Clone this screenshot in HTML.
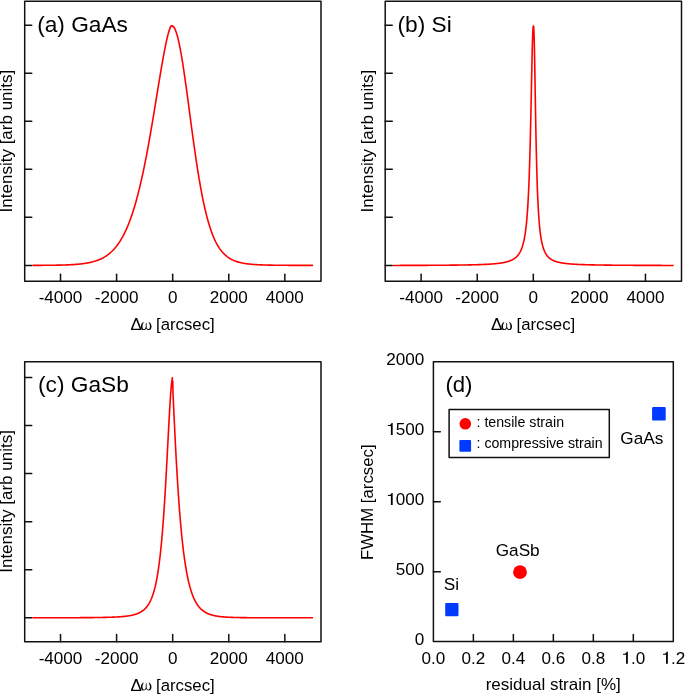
<!DOCTYPE html>
<html><head><meta charset="utf-8"><style>
html,body{margin:0;padding:0;background:#fff;}
svg{display:block;will-change:transform;}
text{font-family:"Liberation Sans",sans-serif;fill:#000;}
.ax{fill:none;stroke:#111;stroke-width:1.5;stroke-linejoin:round;stroke-linecap:round;}
.c{fill:none;stroke:#ff0000;stroke-width:1.6;stroke-linejoin:round;stroke-linecap:round;}
</style></head><body>
<svg width="685" height="694" viewBox="0 0 685 694">
<rect width="685" height="694" fill="#fff"/>
<rect x="24.7" y="1.25" width="296.30" height="280.00" class="ax"/>
<line x1="60.52" y1="281.25" x2="60.52" y2="274.20" class="ax"/>
<text x="60.52" y="302.90" font-size="17.1" text-anchor="middle" >-4000</text>
<line x1="116.60" y1="281.25" x2="116.60" y2="274.20" class="ax"/>
<text x="116.60" y="302.90" font-size="17.1" text-anchor="middle" >-2000</text>
<line x1="172.68" y1="281.25" x2="172.68" y2="274.20" class="ax"/>
<text x="172.68" y="302.90" font-size="17.1" text-anchor="middle" >0</text>
<line x1="228.76" y1="281.25" x2="228.76" y2="274.20" class="ax"/>
<text x="228.76" y="302.90" font-size="17.1" text-anchor="middle" >2000</text>
<line x1="284.84" y1="281.25" x2="284.84" y2="274.20" class="ax"/>
<text x="284.84" y="302.90" font-size="17.1" text-anchor="middle" >4000</text>
<line x1="24.7" y1="25.20" x2="31.75" y2="25.20" class="ax"/>
<line x1="24.7" y1="73.24" x2="31.75" y2="73.24" class="ax"/>
<line x1="24.7" y1="121.28" x2="31.75" y2="121.28" class="ax"/>
<line x1="24.7" y1="169.32" x2="31.75" y2="169.32" class="ax"/>
<line x1="24.7" y1="217.36" x2="31.75" y2="217.36" class="ax"/>
<line x1="24.7" y1="265.40" x2="31.75" y2="265.40" class="ax"/>
<text x="37.15" y="31.60" font-size="22.7" text-anchor="start" >(a) GaAs</text>
<text x="130.40" y="330.30" font-size="17">&#916;</text>
<path d="M2.4,-7.9 C0.7,-6.7 0,-5.0 0,-3.5 C0,-1.3 1.1,0.15 2.6,0.15 C3.8,0.15 4.7,-0.5 5.3,-1.5 C5.9,-0.5 6.8,0.15 8.0,0.15 C9.5,0.15 10.6,-1.3 10.6,-3.5 C10.6,-5.0 9.9,-6.7 8.2,-7.9 L7.7,-7.4 C8.6,-6.4 9.0,-5.0 9.0,-3.5 C9.0,-1.7 8.5,-0.7 7.7,-0.7 C6.7,-0.7 5.8,-1.8 5.75,-3.2 L5.7,-6.6 C5.65,-7.1 5.0,-7.1 4.95,-6.6 L4.85,-3.2 C4.8,-1.8 3.9,-0.7 2.9,-0.7 C2.1,-0.7 1.6,-1.7 1.6,-3.5 C1.6,-5.0 2.0,-6.4 2.9,-7.4 Z" transform="translate(140.90,329.95)" fill="#000"/>
<text x="156.00" y="330.20" font-size="16.8">[arcsec]</text>
<text transform="translate(12.40,212.40) rotate(-90)" font-size="17">Intensity [arb units]</text>
<polyline points="32.90,265.36 33.72,265.36 34.54,265.36 35.36,265.35 36.19,265.35 37.01,265.35 37.83,265.35 38.65,265.34 39.47,265.34 40.29,265.33 41.11,265.33 41.93,265.33 42.75,265.32 43.58,265.32 44.40,265.31 45.22,265.30 46.04,265.30 46.86,265.29 47.68,265.28 48.50,265.28 49.32,265.27 50.15,265.26 50.97,265.25 51.79,265.24 52.61,265.23 53.43,265.22 54.25,265.21 55.07,265.19 55.89,265.18 56.71,265.17 57.54,265.15 58.36,265.13 59.18,265.12 60.00,265.10 60.82,265.08 61.64,265.06 62.46,265.04 63.28,265.01 64.11,264.99 64.93,264.96 65.75,264.93 66.57,264.90 67.39,264.87 68.21,264.83 69.03,264.80 69.85,264.76 70.67,264.72 71.50,264.67 72.32,264.63 73.14,264.58 73.96,264.52 74.78,264.47 75.60,264.41 76.42,264.34 77.24,264.27 78.07,264.20 78.89,264.12 79.71,264.04 80.53,263.96 81.35,263.86 82.17,263.77 82.99,263.66 83.81,263.55 84.63,263.43 85.46,263.31 86.28,263.18 87.10,263.04 87.92,262.89 88.74,262.73 89.56,262.56 90.38,262.38 91.20,262.19 92.02,261.99 92.85,261.78 93.67,261.55 94.49,261.32 95.31,261.06 96.13,260.80 96.95,260.51 97.77,260.21 98.59,259.89 99.42,259.56 100.24,259.20 101.06,258.82 101.88,258.43 102.70,258.01 103.52,257.56 104.34,257.09 105.16,256.59 105.98,256.07 106.81,255.52 107.63,254.93 108.45,254.32 109.27,253.67 110.09,252.98 110.91,252.26 111.73,251.50 112.55,250.70 113.38,249.85 114.20,248.97 115.02,248.03 115.84,247.05 116.66,246.02 117.48,244.93 118.30,243.80 119.12,242.60 119.94,241.35 120.77,240.03 121.59,238.65 122.41,237.20 123.23,235.69 124.05,234.11 124.87,232.45 125.69,230.72 126.51,228.90 127.34,227.01 128.16,225.04 128.98,222.98 129.80,220.83 130.62,218.59 130.69,218.39 130.76,218.20 130.83,218.00 130.90,217.80 130.97,217.61 131.04,217.41 131.11,217.21 131.18,217.01 131.25,216.81 131.32,216.60 131.39,216.40 131.46,216.20 131.53,216.00 131.60,215.79 131.67,215.59 131.74,215.38 131.81,215.17 131.88,214.97 131.95,214.76 132.02,214.55 132.09,214.34 132.16,214.13 132.23,213.92 132.30,213.71 132.37,213.50 132.44,213.28 132.51,213.07 132.58,212.86 132.65,212.64 132.72,212.43 132.79,212.21 132.87,211.99 132.94,211.77 133.01,211.56 133.08,211.34 133.15,211.12 133.22,210.90 133.29,210.67 133.36,210.45 133.43,210.23 133.50,210.01 133.57,209.78 133.64,209.56 133.71,209.33 133.78,209.11 133.85,208.88 133.92,208.65 133.99,208.42 134.06,208.19 134.13,207.96 134.20,207.73 134.27,207.50 134.34,207.27 134.41,207.03 134.48,206.80 134.55,206.57 134.62,206.33 134.69,206.09 134.76,205.86 134.83,205.62 134.90,205.38 134.97,205.14 135.04,204.90 135.11,204.66 135.18,204.42 135.25,204.18 135.32,203.94 135.39,203.69 135.46,203.45 135.53,203.20 135.60,202.96 135.67,202.71 135.74,202.46 135.81,202.22 135.88,201.97 135.95,201.72 136.02,201.47 136.09,201.22 136.16,200.96 136.23,200.71 136.30,200.46 136.37,200.20 136.44,199.95 136.51,199.69 136.58,199.44 136.65,199.18 136.72,198.92 136.79,198.66 136.86,198.40 136.93,198.14 137.00,197.88 137.07,197.62 137.14,197.36 137.21,197.09 137.29,196.83 137.36,196.56 137.43,196.30 137.50,196.03 137.57,195.76 137.64,195.50 137.71,195.23 137.78,194.96 137.85,194.69 137.92,194.42 137.99,194.14 138.06,193.87 138.13,193.60 138.20,193.32 138.27,193.05 138.34,192.77 138.41,192.50 138.48,192.22 138.55,191.94 138.62,191.66 138.69,191.38 138.76,191.10 138.83,190.82 138.90,190.54 138.97,190.25 139.04,189.97 139.11,189.68 139.18,189.40 139.25,189.11 139.32,188.83 139.39,188.54 139.46,188.25 139.53,187.96 139.60,187.67 139.67,187.38 139.74,187.09 139.81,186.80 139.88,186.50 139.95,186.21 140.02,185.91 140.09,185.62 140.16,185.32 140.23,185.02 140.30,184.73 140.37,184.43 140.44,184.13 140.51,183.83 140.58,183.52 140.65,183.22 140.72,182.92 140.79,182.62 140.86,182.31 140.93,182.01 141.00,181.70 141.07,181.39 141.14,181.09 141.21,180.78 141.28,180.47 141.35,180.16 141.42,179.85 141.49,179.54 141.56,179.22 141.63,178.91 141.71,178.60 141.78,178.28 141.85,177.97 141.92,177.65 141.99,177.33 142.06,177.02 142.13,176.70 142.20,176.38 142.27,176.06 142.34,175.74 142.41,175.42 142.48,175.09 142.55,174.77 142.62,174.45 142.69,174.12 142.76,173.79 142.83,173.47 142.90,173.14 142.97,172.81 143.04,172.48 143.11,172.15 143.18,171.82 143.25,171.49 143.32,171.16 143.39,170.83 143.46,170.49 143.53,170.16 143.60,169.83 143.67,169.49 143.74,169.15 143.81,168.82 143.88,168.48 143.95,168.14 144.02,167.80 144.09,167.46 144.16,167.12 144.23,166.78 144.30,166.43 144.37,166.09 144.44,165.74 144.51,165.40 144.58,165.05 144.65,164.71 144.72,164.36 144.79,164.01 144.86,163.66 144.93,163.31 145.00,162.96 145.07,162.61 145.14,162.26 145.21,161.91 145.28,161.55 145.35,161.20 145.42,160.85 145.49,160.49 145.56,160.13 145.63,159.78 145.70,159.42 145.77,159.06 145.84,158.70 145.91,158.34 145.98,157.98 146.05,157.62 146.13,157.26 146.20,156.89 146.27,156.53 146.34,156.17 146.41,155.80 146.48,155.44 146.55,155.07 146.62,154.70 146.69,154.33 146.76,153.97 146.83,153.60 146.90,153.23 146.97,152.86 147.04,152.49 147.11,152.11 147.18,151.74 147.25,151.37 147.32,150.99 147.39,150.62 147.46,150.24 147.53,149.87 147.60,149.49 147.67,149.11 147.74,148.73 147.81,148.35 147.88,147.98 147.95,147.59 148.02,147.21 148.09,146.83 148.16,146.45 148.23,146.07 148.30,145.68 148.37,145.30 148.44,144.91 148.51,144.53 148.58,144.14 148.65,143.76 148.72,143.37 148.79,142.98 148.86,142.59 148.93,142.20 149.00,141.81 149.07,141.42 149.14,141.03 149.21,140.64 149.28,140.25 149.35,139.85 149.42,139.46 149.49,139.07 149.56,138.67 149.63,138.28 149.70,137.88 149.77,137.48 149.84,137.09 149.91,136.69 149.98,136.29 150.05,135.89 150.12,135.49 150.19,135.09 150.26,134.69 150.33,134.29 150.40,133.89 150.47,133.49 150.55,133.08 150.62,132.68 150.69,132.28 150.76,131.87 150.83,131.47 150.90,131.06 150.97,130.66 151.04,130.25 151.11,129.84 151.18,129.44 151.25,129.03 151.32,128.62 151.39,128.21 151.46,127.80 151.53,127.39 151.60,126.98 151.67,126.57 151.74,126.16 151.81,125.75 151.88,125.33 151.95,124.92 152.02,124.51 152.09,124.09 152.16,123.68 152.23,123.26 152.30,122.85 152.37,122.43 152.44,122.02 152.51,121.60 152.58,121.19 152.65,120.77 152.72,120.35 152.79,119.93 152.86,119.51 152.93,119.10 153.00,118.68 153.07,118.26 153.14,117.84 153.21,117.42 153.28,117.00 153.35,116.58 153.42,116.15 153.49,115.73 153.56,115.31 153.63,114.89 153.70,114.47 153.77,114.04 153.84,113.62 153.91,113.20 153.98,112.77 154.05,112.35 154.12,111.92 154.19,111.50 154.26,111.08 154.33,110.65 154.40,110.22 154.47,109.80 154.54,109.37 154.61,108.95 154.68,108.52 154.75,108.09 154.82,107.67 154.89,107.24 154.96,106.81 155.04,106.38 155.11,105.96 155.18,105.53 155.25,105.10 155.32,104.67 155.39,104.24 155.46,103.82 155.53,103.39 155.60,102.96 155.67,102.53 155.74,102.10 155.81,101.67 155.88,101.24 155.95,100.81 156.02,100.38 156.09,99.95 156.16,99.52 156.23,99.09 156.30,98.66 156.37,98.23 156.44,97.80 156.51,97.37 156.58,96.94 156.65,96.51 156.72,96.08 156.79,95.65 156.86,95.22 156.93,94.79 157.00,94.36 157.07,93.93 157.14,93.50 157.21,93.07 157.28,92.64 157.35,92.21 157.42,91.78 157.49,91.35 157.56,90.92 157.63,90.49 157.70,90.06 157.77,89.63 157.84,89.21 157.91,88.78 157.98,88.35 158.05,87.92 158.12,87.49 158.19,87.06 158.26,86.63 158.33,86.21 158.40,85.78 158.47,85.35 158.54,84.92 158.61,84.49 158.68,84.07 158.75,83.64 158.82,83.21 158.89,82.79 158.96,82.36 159.03,81.94 159.10,81.51 159.17,81.09 159.24,80.66 159.31,80.24 159.38,79.81 159.46,79.39 159.53,78.97 159.60,78.54 159.67,78.12 159.74,77.70 159.81,77.28 159.88,76.85 159.95,76.43 160.02,76.01 160.09,75.59 160.16,75.17 160.23,74.75 160.30,74.33 160.37,73.92 160.44,73.50 160.51,73.08 160.58,72.67 160.65,72.25 160.72,71.83 160.79,71.42 160.86,71.00 160.93,70.59 161.00,70.18 161.07,69.77 161.14,69.35 161.21,68.94 161.28,68.53 161.35,68.12 161.42,67.71 161.49,67.30 161.56,66.90 161.63,66.49 161.70,66.08 161.77,65.68 161.84,65.27 161.91,64.87 161.98,64.47 162.05,64.06 162.12,63.66 162.19,63.26 162.26,62.86 162.33,62.46 162.40,62.06 162.47,61.67 162.54,61.27 162.61,60.87 162.68,60.48 162.75,60.09 162.82,59.69 162.89,59.30 162.96,58.91 163.03,58.52 163.10,58.13 163.17,57.75 163.24,57.36 163.31,56.97 163.38,56.59 163.45,56.21 163.52,55.82 163.59,55.44 163.66,55.06 163.73,54.68 163.80,54.31 163.88,53.93 163.95,53.56 164.02,53.18 164.09,52.81 164.16,52.44 164.23,52.07 164.30,51.70 164.37,51.33 164.44,50.97 164.51,50.60 164.58,50.24 164.65,49.88 164.72,49.52 164.79,49.16 164.86,48.80 164.93,48.44 165.00,48.09 165.07,47.74 165.14,47.39 165.21,47.04 165.28,46.69 165.35,46.34 165.42,46.00 165.49,45.65 165.56,45.31 165.63,44.97 165.70,44.63 165.77,44.30 165.84,43.96 165.91,43.63 165.98,43.30 166.05,42.97 166.12,42.64 166.19,42.31 166.26,41.99 166.33,41.67 166.40,41.35 166.47,41.03 166.54,40.71 166.61,40.40 166.68,40.09 166.75,39.78 166.82,39.47 166.89,39.16 166.96,38.86 167.03,38.56 167.10,38.26 167.17,37.96 167.24,37.67 167.31,37.37 167.38,37.08 167.45,36.80 167.52,36.51 167.59,36.23 167.66,35.95 167.73,35.67 167.80,35.39 167.87,35.12 167.94,34.85 168.01,34.58 168.08,34.32 168.15,34.05 168.22,33.79 168.30,33.53 168.37,33.28 168.44,33.03 168.51,32.78 168.58,32.53 168.65,32.29 168.72,32.05 168.79,31.81 168.86,31.58 168.93,31.35 169.00,31.12 169.07,30.90 169.14,30.68 169.21,30.46 169.28,30.24 169.35,30.03 169.42,29.82 169.49,29.62 169.56,29.42 169.63,29.22 169.70,29.03 169.77,28.84 169.84,28.66 169.91,28.47 169.98,28.30 170.05,28.12 170.12,27.96 170.30,26.70 170.47,27.18 170.54,27.04 170.61,26.90 170.68,26.77 170.75,26.65 170.82,26.53 170.89,26.41 170.96,26.31 171.03,26.21 171.20,25.80 171.38,25.81 171.45,25.76 171.52,25.72 171.59,25.70 171.60,25.70 171.66,25.70 171.73,25.70 171.80,25.71 171.87,25.72 171.94,25.73 172.10,25.90 172.29,25.83 172.36,25.86 172.43,25.89 172.50,25.93 172.57,25.97 172.64,26.01 172.72,26.05 172.79,26.10 172.86,26.15 172.93,26.20 173.10,26.40 173.28,26.52 173.35,26.59 173.42,26.67 173.49,26.75 173.56,26.83 173.63,26.92 173.70,27.00 173.77,27.10 173.84,27.19 173.91,27.29 173.98,27.39 174.05,27.50 174.20,27.20 174.40,28.07 174.47,28.19 174.54,28.32 174.61,28.45 174.68,28.59 174.75,28.72 174.82,28.86 174.89,29.01 174.96,29.15 175.03,29.30 175.10,29.46 175.17,29.61 175.24,29.77 175.31,29.94 175.38,30.10 175.45,30.27 175.52,30.44 175.59,30.62 175.66,30.80 175.73,30.98 175.80,31.17 175.87,31.35 175.94,31.55 176.01,31.74 176.08,31.94 176.15,32.14 176.22,32.34 176.29,32.55 176.36,32.76 176.43,32.97 176.50,33.19 176.57,33.41 176.64,33.63 176.71,33.86 176.78,34.09 176.85,34.32 176.92,34.56 176.99,34.79 177.06,35.04 177.14,35.28 177.21,35.53 177.28,35.78 177.35,36.03 177.42,36.29 177.49,36.55 177.56,36.81 177.63,37.08 177.70,37.34 177.77,37.62 177.84,37.89 177.91,38.17 177.98,38.45 178.05,38.73 178.12,39.02 178.19,39.31 178.26,39.60 178.33,39.89 178.40,40.19 178.47,40.49 178.54,40.79 178.61,41.10 178.68,41.41 178.75,41.72 178.82,42.03 178.89,42.35 178.96,42.67 179.03,42.99 179.10,43.32 179.17,43.64 179.24,43.97 179.31,44.31 179.38,44.64 179.45,44.98 179.52,45.32 179.59,45.67 179.66,46.01 179.73,46.36 179.80,46.71 179.87,47.07 179.94,47.42 180.01,47.78 180.08,48.14 180.15,48.51 180.22,48.88 180.29,49.24 180.36,49.62 180.43,49.99 180.50,50.37 180.57,50.74 180.64,51.13 180.71,51.51 180.78,51.89 180.85,52.28 180.92,52.67 180.99,53.07 181.06,53.46 181.13,53.86 181.20,54.26 181.27,54.66 181.34,55.06 181.41,55.47 181.48,55.88 181.56,56.29 181.63,56.70 181.70,57.11 181.77,57.53 181.84,57.95 181.91,58.37 181.98,58.79 182.05,59.22 182.12,59.64 182.19,60.07 182.26,60.50 182.33,60.94 182.40,61.37 182.47,61.81 182.54,62.25 182.61,62.69 182.68,63.13 182.75,63.57 182.82,64.02 182.89,64.47 182.96,64.92 183.03,65.37 183.10,65.82 183.17,66.27 183.24,66.73 183.31,67.19 183.38,67.65 183.45,68.11 183.52,68.57 183.59,69.04 183.66,69.50 183.73,69.97 183.80,70.44 183.87,70.91 183.94,71.38 184.01,71.85 184.08,72.33 184.15,72.81 184.22,73.28 184.29,73.76 184.36,74.24 184.43,74.73 184.50,75.21 184.57,75.69 184.64,76.18 184.71,76.67 184.78,77.16 184.85,77.65 184.92,78.14 184.99,78.63 185.06,79.12 185.13,79.62 185.20,80.11 185.27,80.61 185.34,81.11 185.41,81.61 185.48,82.11 185.55,82.61 185.62,83.11 185.69,83.61 185.76,84.12 185.83,84.62 185.90,85.13 185.98,85.64 186.05,86.14 186.12,86.65 186.19,87.16 186.26,87.67 186.33,88.18 186.40,88.70 186.47,89.21 186.54,89.72 186.61,90.24 186.68,90.75 186.75,91.27 186.82,91.79 186.89,92.30 186.96,92.82 187.03,93.34 187.10,93.86 187.17,94.38 187.24,94.90 187.31,95.42 187.38,95.94 187.45,96.46 187.52,96.99 187.59,97.51 187.66,98.03 187.73,98.56 187.80,99.08 187.87,99.61 187.94,100.13 188.01,100.66 188.08,101.18 188.15,101.71 188.22,102.24 188.29,102.76 188.36,103.29 188.43,103.82 188.50,104.35 188.57,104.87 188.64,105.40 188.71,105.93 188.78,106.46 188.85,106.99 188.92,107.52 188.99,108.05 189.06,108.57 189.13,109.10 189.20,109.63 189.27,110.16 189.34,110.69 189.41,111.22 189.48,111.75 189.55,112.28 189.62,112.81 189.69,113.34 189.76,113.87 189.83,114.40 189.90,114.93 189.97,115.46 190.04,115.99 190.11,116.51 190.18,117.04 190.25,117.57 190.32,118.10 190.40,118.63 190.47,119.16 190.54,119.68 190.61,120.21 190.68,120.74 190.75,121.27 190.82,121.79 190.89,122.32 190.96,122.85 191.03,123.37 191.10,123.90 191.17,124.42 191.24,124.95 191.31,125.47 191.38,126.00 191.45,126.52 191.52,127.04 191.59,127.56 191.66,128.09 191.73,128.61 191.80,129.13 191.87,129.65 191.94,130.17 192.01,130.69 192.08,131.21 192.15,131.73 192.22,132.25 192.29,132.76 192.36,133.28 192.43,133.80 192.50,134.31 192.57,134.83 192.64,135.34 192.71,135.86 192.78,136.37 192.85,136.88 192.92,137.39 192.99,137.90 193.06,138.42 193.13,138.92 193.20,139.43 193.27,139.94 193.34,140.45 193.41,140.96 193.48,141.46 193.55,141.97 193.62,142.47 193.69,142.98 193.76,143.48 193.83,143.98 193.90,144.48 193.97,144.98 194.04,145.48 194.11,145.98 194.18,146.48 194.25,146.97 194.32,147.47 194.39,147.96 194.46,148.46 194.53,148.95 194.60,149.44 194.67,149.93 194.74,150.42 194.81,150.91 194.89,151.40 194.96,151.89 195.03,152.38 195.10,152.86 195.17,153.35 195.24,153.83 195.31,154.31 195.38,154.79 195.45,155.27 195.52,155.75 195.59,156.23 195.66,156.71 195.73,157.18 195.80,157.66 195.87,158.13 195.94,158.60 196.01,159.08 196.08,159.55 196.15,160.02 196.22,160.48 196.29,160.95 196.36,161.42 196.43,161.88 196.50,162.35 196.57,162.81 196.64,163.27 196.71,163.73 196.78,164.19 196.85,164.65 196.92,165.11 196.99,165.56 197.06,166.02 197.13,166.47 197.20,166.92 197.27,167.37 197.34,167.82 197.41,168.27 197.48,168.72 197.55,169.16 197.62,169.61 197.69,170.05 197.76,170.49 197.83,170.93 197.90,171.37 197.97,171.81 198.04,172.25 198.11,172.69 198.18,173.12 198.25,173.55 198.32,173.99 198.39,174.42 198.46,174.85 198.53,175.28 198.60,175.70 198.67,176.13 198.74,176.55 198.81,176.98 198.88,177.40 198.95,177.82 199.02,178.24 199.09,178.65 199.16,179.07 199.23,179.49 199.31,179.90 199.38,180.31 199.45,180.72 199.52,181.13 199.59,181.54 199.66,181.95 199.73,182.36 199.80,182.76 199.87,183.16 199.94,183.57 200.01,183.97 200.08,184.37 200.15,184.76 200.22,185.16 200.29,185.56 200.36,185.95 200.43,186.34 200.50,186.73 200.57,187.12 200.64,187.51 200.71,187.90 200.78,188.28 200.85,188.67 200.92,189.05 200.99,189.43 201.06,189.81 201.13,190.19 201.20,190.57 201.27,190.95 201.34,191.32 201.41,191.69 201.48,192.07 201.55,192.44 201.62,192.81 201.69,193.17 201.76,193.54 201.83,193.91 201.90,194.27 201.97,194.63 202.04,194.99 202.11,195.35 202.18,195.71 202.25,196.07 202.32,196.42 202.39,196.78 202.46,197.13 202.53,197.48 202.60,197.83 202.67,198.18 202.74,198.53 202.81,198.88 202.88,199.22 202.95,199.56 203.02,199.91 203.09,200.25 203.16,200.59 203.23,200.92 203.30,201.26 203.37,201.60 203.44,201.93 203.51,202.26 203.58,202.59 203.65,202.92 203.73,203.25 203.80,203.58 203.87,203.90 203.94,204.23 204.01,204.55 204.08,204.87 204.15,205.19 204.22,205.51 204.29,205.83 204.36,206.15 204.43,206.46 204.50,206.77 204.57,207.09 204.64,207.40 204.71,207.71 204.78,208.02 204.85,208.32 204.92,208.63 204.99,208.93 205.06,209.24 205.13,209.54 205.20,209.84 205.27,210.14 205.34,210.43 205.41,210.73 205.48,211.03 205.55,211.32 205.62,211.61 205.69,211.90 205.76,212.19 205.83,212.48 205.90,212.77 205.97,213.06 206.04,213.34 206.11,213.63 206.18,213.91 206.25,214.19 206.32,214.47 206.39,214.75 206.46,215.02 206.53,215.30 206.60,215.57 206.67,215.85 206.74,216.12 206.81,216.39 206.88,216.66 206.95,216.93 207.02,217.20 207.09,217.46 207.16,217.73 207.23,217.99 207.30,218.25 207.37,218.51 207.44,218.77 207.51,219.03 207.58,219.29 207.65,219.55 207.72,219.80 207.79,220.05 207.86,220.31 207.93,220.56 208.00,220.81 208.07,221.06 208.15,221.31 208.22,221.55 208.29,221.80 208.36,222.04 208.43,222.28 208.50,222.53 208.57,222.77 208.64,223.01 208.71,223.24 208.78,223.48 208.85,223.72 208.92,223.95 208.99,224.19 209.06,224.42 209.13,224.65 209.20,224.88 209.27,225.11 209.34,225.34 209.41,225.56 209.48,225.79 209.55,226.01 209.62,226.24 209.69,226.46 209.76,226.68 209.83,226.90 209.90,227.12 209.97,227.34 210.04,227.56 210.11,227.77 210.18,227.99 210.25,228.20 210.32,228.41 210.39,228.62 210.46,228.83 210.53,229.04 210.60,229.25 210.67,229.46 210.74,229.67 210.81,229.87 210.88,230.07 210.95,230.28 211.02,230.48 211.09,230.68 211.16,230.88 211.23,231.08 211.30,231.28 211.37,231.47 211.44,231.67 211.51,231.86 211.58,232.06 211.65,232.25 211.72,232.44 211.79,232.63 211.86,232.82 211.93,233.01 212.00,233.20 212.07,233.39 212.14,233.57 212.21,233.76 212.28,233.94 212.35,234.12 212.42,234.31 212.49,234.49 212.57,234.67 212.64,234.84 212.71,235.02 212.78,235.20 212.85,235.38 212.92,235.55 212.99,235.73 213.06,235.90 213.13,236.07 213.20,236.24 213.27,236.41 213.34,236.58 213.41,236.75 213.48,236.92 213.55,237.09 213.62,237.25 213.69,237.42 213.76,237.58 213.83,237.75 213.90,237.91 213.97,238.07 214.04,238.23 214.11,238.39 214.18,238.55 214.25,238.71 214.32,238.86 214.39,239.02 214.46,239.18 214.53,239.33 214.60,239.48 214.67,239.64 214.74,239.79 215.56,241.51 216.38,243.12 217.20,244.63 218.02,246.04 218.85,247.36 219.67,248.59 220.49,249.74 221.31,250.81 222.13,251.81 222.95,252.75 223.77,253.62 224.59,254.43 225.42,255.19 226.24,255.89 227.06,256.55 227.88,257.16 228.70,257.72 229.52,258.25 230.34,258.74 231.16,259.20 231.98,259.63 232.81,260.02 233.63,260.39 234.45,260.73 235.27,261.05 236.09,261.35 236.91,261.62 237.73,261.88 238.55,262.12 239.38,262.34 240.20,262.54 241.02,262.73 241.84,262.91 242.66,263.08 243.48,263.23 244.30,263.38 245.12,263.51 245.94,263.63 246.77,263.75 247.59,263.86 248.41,263.96 249.23,264.05 250.05,264.14 250.87,264.22 251.69,264.30 252.51,264.37 253.34,264.43 254.16,264.49 254.98,264.55 255.80,264.60 256.62,264.65 257.44,264.70 258.26,264.74 259.08,264.78 259.90,264.82 260.73,264.86 261.55,264.89 262.37,264.92 263.19,264.95 264.01,264.98 264.83,265.00 265.65,265.03 266.47,265.05 267.29,265.07 268.12,265.09 268.94,265.11 269.76,265.12 270.58,265.14 271.40,265.16 272.22,265.17 273.04,265.18 273.86,265.20 274.69,265.21 275.51,265.22 276.33,265.23 277.15,265.24 277.97,265.25 278.79,265.26 279.61,265.26 280.43,265.27 281.25,265.28 282.08,265.28 282.90,265.29 283.72,265.30 284.54,265.30 285.36,265.31 286.18,265.31 287.00,265.32 287.82,265.32 288.65,265.33 289.47,265.33 290.29,265.33 291.11,265.34 291.93,265.34 292.75,265.34 293.57,265.35 294.39,265.35 295.21,265.35 296.04,265.35 296.86,265.36 297.68,265.36 298.50,265.36 299.32,265.36 300.14,265.36 300.96,265.37 301.78,265.37 302.61,265.37 303.43,265.37 304.25,265.37 305.07,265.37 305.89,265.37 306.71,265.38 307.53,265.38 308.35,265.38 309.17,265.38 310.00,265.38 310.82,265.38 311.64,265.38 312.46,265.38" class="c"/>
<rect x="385.2" y="1.25" width="296.30" height="280.00" class="ax"/>
<line x1="421.14" y1="281.25" x2="421.14" y2="274.20" class="ax"/>
<text x="421.14" y="302.90" font-size="17.1" text-anchor="middle" >-4000</text>
<line x1="477.22" y1="281.25" x2="477.22" y2="274.20" class="ax"/>
<text x="477.22" y="302.90" font-size="17.1" text-anchor="middle" >-2000</text>
<line x1="533.30" y1="281.25" x2="533.30" y2="274.20" class="ax"/>
<text x="533.30" y="302.90" font-size="17.1" text-anchor="middle" >0</text>
<line x1="589.38" y1="281.25" x2="589.38" y2="274.20" class="ax"/>
<text x="589.38" y="302.90" font-size="17.1" text-anchor="middle" >2000</text>
<line x1="645.46" y1="281.25" x2="645.46" y2="274.20" class="ax"/>
<text x="645.46" y="302.90" font-size="17.1" text-anchor="middle" >4000</text>
<line x1="385.2" y1="25.20" x2="392.25" y2="25.20" class="ax"/>
<line x1="385.2" y1="73.24" x2="392.25" y2="73.24" class="ax"/>
<line x1="385.2" y1="121.28" x2="392.25" y2="121.28" class="ax"/>
<line x1="385.2" y1="169.32" x2="392.25" y2="169.32" class="ax"/>
<line x1="385.2" y1="217.36" x2="392.25" y2="217.36" class="ax"/>
<line x1="385.2" y1="265.40" x2="392.25" y2="265.40" class="ax"/>
<text x="397.50" y="31.60" font-size="22.7" text-anchor="start" >(b) Si</text>
<text x="490.90" y="330.30" font-size="17">&#916;</text>
<path d="M2.4,-7.9 C0.7,-6.7 0,-5.0 0,-3.5 C0,-1.3 1.1,0.15 2.6,0.15 C3.8,0.15 4.7,-0.5 5.3,-1.5 C5.9,-0.5 6.8,0.15 8.0,0.15 C9.5,0.15 10.6,-1.3 10.6,-3.5 C10.6,-5.0 9.9,-6.7 8.2,-7.9 L7.7,-7.4 C8.6,-6.4 9.0,-5.0 9.0,-3.5 C9.0,-1.7 8.5,-0.7 7.7,-0.7 C6.7,-0.7 5.8,-1.8 5.75,-3.2 L5.7,-6.6 C5.65,-7.1 5.0,-7.1 4.95,-6.6 L4.85,-3.2 C4.8,-1.8 3.9,-0.7 2.9,-0.7 C2.1,-0.7 1.6,-1.7 1.6,-3.5 C1.6,-5.0 2.0,-6.4 2.9,-7.4 Z" transform="translate(501.40,329.95)" fill="#000"/>
<text x="516.50" y="330.20" font-size="16.8">[arcsec]</text>
<text transform="translate(372.90,212.40) rotate(-90)" font-size="17">Intensity [arb units]</text>
<polyline points="393.52,265.44 394.34,265.44 395.16,265.44 395.98,265.43 396.81,265.43 397.63,265.43 398.45,265.43 399.27,265.43 400.09,265.42 400.91,265.42 401.73,265.42 402.55,265.42 403.37,265.41 404.20,265.41 405.02,265.41 405.84,265.41 406.66,265.41 407.48,265.40 408.30,265.40 409.12,265.40 409.94,265.40 410.77,265.39 411.59,265.39 412.41,265.39 413.23,265.38 414.05,265.38 414.87,265.38 415.69,265.38 416.51,265.37 417.33,265.37 418.16,265.37 418.98,265.36 419.80,265.36 420.62,265.36 421.44,265.35 422.26,265.35 423.08,265.35 423.90,265.34 424.73,265.34 425.55,265.34 426.37,265.33 427.19,265.33 428.01,265.32 428.83,265.32 429.65,265.32 430.47,265.31 431.29,265.31 432.12,265.30 432.94,265.30 433.76,265.29 434.58,265.29 435.40,265.28 436.22,265.28 437.04,265.27 437.86,265.27 438.69,265.26 439.51,265.26 440.33,265.25 441.15,265.24 441.97,265.24 442.79,265.23 443.61,265.23 444.43,265.22 445.25,265.21 446.08,265.21 446.90,265.20 447.72,265.19 448.54,265.18 449.36,265.18 450.18,265.17 451.00,265.16 451.82,265.15 452.64,265.14 453.47,265.13 454.29,265.12 455.11,265.11 455.93,265.11 456.75,265.09 457.57,265.08 458.39,265.07 459.21,265.06 460.04,265.05 460.86,265.04 461.68,265.03 462.50,265.01 463.32,265.00 464.14,264.99 464.96,264.97 465.78,264.96 466.60,264.94 467.43,264.93 468.25,264.91 469.07,264.90 469.89,264.88 470.71,264.86 471.53,264.84 472.35,264.82 473.17,264.80 474.00,264.78 474.82,264.76 475.64,264.74 476.46,264.71 477.28,264.69 478.10,264.66 478.92,264.63 479.74,264.61 480.56,264.58 481.39,264.55 482.21,264.51 483.03,264.48 483.85,264.44 484.67,264.41 485.49,264.37 486.31,264.33 487.13,264.28 487.96,264.24 488.78,264.19 489.60,264.14 490.42,264.09 491.24,264.03 491.31,264.03 491.38,264.02 491.45,264.02 491.52,264.01 491.59,264.01 491.66,264.00 491.73,264.00 491.80,263.99 491.87,263.99 491.94,263.98 492.01,263.98 492.08,263.97 492.15,263.96 492.22,263.96 492.29,263.95 492.36,263.95 492.43,263.94 492.50,263.94 492.57,263.93 492.64,263.93 492.71,263.92 492.78,263.92 492.85,263.91 492.92,263.91 492.99,263.90 493.06,263.89 493.13,263.89 493.20,263.88 493.27,263.88 493.34,263.87 493.41,263.87 493.49,263.86 493.56,263.85 493.63,263.85 493.70,263.84 493.77,263.84 493.84,263.83 493.91,263.82 493.98,263.82 494.05,263.81 494.12,263.81 494.19,263.80 494.26,263.79 494.33,263.79 494.40,263.78 494.47,263.78 494.54,263.77 494.61,263.76 494.68,263.76 494.75,263.75 494.82,263.74 494.89,263.74 494.96,263.73 495.03,263.72 495.10,263.72 495.17,263.71 495.24,263.71 495.31,263.70 495.38,263.69 495.45,263.69 495.52,263.68 495.59,263.67 495.66,263.67 495.73,263.66 495.80,263.65 495.87,263.64 495.94,263.64 496.01,263.63 496.08,263.62 496.15,263.62 496.22,263.61 496.29,263.60 496.36,263.60 496.43,263.59 496.50,263.58 496.57,263.57 496.64,263.57 496.71,263.56 496.78,263.55 496.85,263.54 496.92,263.54 496.99,263.53 497.06,263.52 497.13,263.51 497.20,263.51 497.27,263.50 497.34,263.49 497.41,263.48 497.48,263.48 497.55,263.47 497.62,263.46 497.69,263.45 497.76,263.44 497.83,263.44 497.91,263.43 497.98,263.42 498.05,263.41 498.12,263.40 498.19,263.39 498.26,263.39 498.33,263.38 498.40,263.37 498.47,263.36 498.54,263.35 498.61,263.34 498.68,263.34 498.75,263.33 498.82,263.32 498.89,263.31 498.96,263.30 499.03,263.29 499.10,263.28 499.17,263.27 499.24,263.26 499.31,263.26 499.38,263.25 499.45,263.24 499.52,263.23 499.59,263.22 499.66,263.21 499.73,263.20 499.80,263.19 499.87,263.18 499.94,263.17 500.01,263.16 500.08,263.15 500.15,263.14 500.22,263.13 500.29,263.12 500.36,263.11 500.43,263.10 500.50,263.09 500.57,263.08 500.64,263.07 500.71,263.06 500.78,263.05 500.85,263.04 500.92,263.03 500.99,263.02 501.06,263.01 501.13,263.00 501.20,262.99 501.27,262.98 501.34,262.97 501.41,262.96 501.48,262.94 501.55,262.93 501.62,262.92 501.69,262.91 501.76,262.90 501.83,262.89 501.90,262.88 501.97,262.87 502.04,262.85 502.11,262.84 502.18,262.83 502.25,262.82 502.33,262.81 502.40,262.79 502.47,262.78 502.54,262.77 502.61,262.76 502.68,262.75 502.75,262.73 502.82,262.72 502.89,262.71 502.96,262.70 503.03,262.68 503.10,262.67 503.17,262.66 503.24,262.65 503.31,262.63 503.38,262.62 503.45,262.61 503.52,262.59 503.59,262.58 503.66,262.57 503.73,262.55 503.80,262.54 503.87,262.52 503.94,262.51 504.01,262.50 504.08,262.48 504.15,262.47 504.22,262.45 504.29,262.44 504.36,262.43 504.43,262.41 504.50,262.40 504.57,262.38 504.64,262.37 504.71,262.35 504.78,262.34 504.85,262.32 504.92,262.31 504.99,262.29 505.06,262.28 505.13,262.26 505.20,262.24 505.27,262.23 505.34,262.21 505.41,262.20 505.48,262.18 505.55,262.16 505.62,262.15 505.69,262.13 505.76,262.12 505.83,262.10 505.90,262.08 505.97,262.06 506.04,262.05 506.11,262.03 506.18,262.01 506.25,262.00 506.32,261.98 506.39,261.96 506.46,261.94 506.53,261.92 506.60,261.91 506.67,261.89 506.75,261.87 506.82,261.85 506.89,261.83 506.96,261.81 507.03,261.79 507.10,261.78 507.17,261.76 507.24,261.74 507.31,261.72 507.38,261.70 507.45,261.68 507.52,261.66 507.59,261.64 507.66,261.62 507.73,261.60 507.80,261.58 507.87,261.55 507.94,261.53 508.01,261.51 508.08,261.49 508.15,261.47 508.22,261.45 508.29,261.43 508.36,261.40 508.43,261.38 508.50,261.36 508.57,261.34 508.64,261.31 508.71,261.29 508.78,261.27 508.85,261.25 508.92,261.22 508.99,261.20 509.06,261.17 509.13,261.15 509.20,261.13 509.27,261.10 509.34,261.08 509.41,261.05 509.48,261.03 509.55,261.00 509.62,260.98 509.69,260.95 509.76,260.92 509.83,260.90 509.90,260.87 509.97,260.84 510.04,260.82 510.11,260.79 510.18,260.76 510.25,260.74 510.32,260.71 510.39,260.68 510.46,260.65 510.53,260.62 510.60,260.59 510.67,260.57 510.74,260.54 510.81,260.51 510.88,260.48 510.95,260.45 511.02,260.42 511.09,260.39 511.17,260.35 511.24,260.32 511.31,260.29 511.38,260.26 511.45,260.23 511.52,260.20 511.59,260.16 511.66,260.13 511.73,260.10 511.80,260.06 511.87,260.03 511.94,260.00 512.01,259.96 512.08,259.93 512.15,259.89 512.22,259.86 512.29,259.82 512.36,259.78 512.43,259.75 512.50,259.71 512.57,259.67 512.64,259.64 512.71,259.60 512.78,259.56 512.85,259.52 512.92,259.48 512.99,259.44 513.06,259.40 513.13,259.36 513.20,259.32 513.27,259.28 513.34,259.24 513.41,259.20 513.48,259.16 513.55,259.11 513.62,259.07 513.69,259.03 513.76,258.98 513.83,258.94 513.90,258.89 513.97,258.85 514.04,258.80 514.11,258.76 514.18,258.71 514.25,258.66 514.32,258.61 514.39,258.57 514.46,258.52 514.53,258.47 514.60,258.42 514.67,258.37 514.74,258.32 514.81,258.27 514.88,258.21 514.95,258.16 515.02,258.11 515.09,258.06 515.16,258.00 515.23,257.95 515.30,257.89 515.37,257.84 515.44,257.78 515.51,257.72 515.58,257.66 515.66,257.61 515.73,257.55 515.80,257.49 515.87,257.43 515.94,257.37 516.01,257.30 516.08,257.24 516.15,257.18 516.22,257.11 516.29,257.05 516.36,256.98 516.43,256.92 516.50,256.85 516.57,256.78 516.64,256.71 516.71,256.64 516.78,256.57 516.85,256.50 516.92,256.43 516.99,256.36 517.06,256.28 517.13,256.21 517.20,256.13 517.27,256.06 517.34,255.98 517.41,255.90 517.48,255.82 517.55,255.74 517.62,255.66 517.69,255.58 517.76,255.50 517.83,255.41 517.90,255.33 517.97,255.24 518.04,255.15 518.11,255.06 518.18,254.97 518.25,254.88 518.32,254.79 518.39,254.70 518.46,254.60 518.53,254.51 518.60,254.41 518.67,254.31 518.74,254.21 518.81,254.11 518.88,254.01 518.95,253.91 519.02,253.80 519.09,253.69 519.16,253.59 519.23,253.48 519.30,253.37 519.37,253.25 519.44,253.14 519.51,253.02 519.58,252.91 519.65,252.79 519.72,252.67 519.79,252.54 519.86,252.42 519.93,252.29 520.00,252.17 520.08,252.04 520.15,251.91 520.22,251.77 520.29,251.64 520.36,251.50 520.43,251.36 520.50,251.22 520.57,251.07 520.64,250.93 520.71,250.78 520.78,250.63 520.85,250.48 520.92,250.32 520.99,250.17 521.06,250.01 521.13,249.84 521.20,249.68 521.27,249.51 521.34,249.34 521.41,249.17 521.48,248.99 521.55,248.82 521.62,248.64 521.69,248.45 521.76,248.26 521.83,248.07 521.90,247.88 521.97,247.68 522.04,247.49 522.11,247.28 522.18,247.08 522.25,246.87 522.32,246.65 522.39,246.44 522.46,246.21 522.53,245.99 522.60,245.76 522.67,245.53 522.74,245.29 522.81,245.05 522.88,244.81 522.95,244.56 523.02,244.30 523.09,244.04 523.16,243.78 523.23,243.51 523.30,243.24 523.37,242.96 523.44,242.68 523.51,242.39 523.58,242.10 523.65,241.80 523.72,241.49 523.79,241.18 523.86,240.87 523.93,240.54 524.00,240.21 524.07,239.88 524.14,239.54 524.21,239.19 524.28,238.83 524.35,238.47 524.42,238.10 524.50,237.72 524.57,237.34 524.64,236.94 524.71,236.54 524.78,236.13 524.85,235.72 524.92,235.29 524.99,234.85 525.06,234.41 525.13,233.96 525.20,233.49 525.27,233.02 525.34,232.53 525.41,232.04 525.48,231.53 525.55,231.02 525.62,230.49 525.69,229.95 525.76,229.40 525.83,228.83 525.90,228.26 525.97,227.67 526.04,227.06 526.11,226.44 526.18,225.81 526.25,225.17 526.32,224.50 526.39,223.83 526.46,223.13 526.53,222.42 526.60,221.69 526.67,220.95 526.74,220.19 526.81,219.40 526.88,218.60 526.95,217.78 527.02,216.94 527.09,216.08 527.16,215.20 527.23,214.29 527.30,213.36 527.37,212.41 527.44,211.43 527.51,210.43 527.58,209.40 527.65,208.35 527.72,207.27 527.79,206.16 527.86,205.02 527.93,203.85 528.00,202.65 528.07,201.42 528.14,200.16 528.21,198.86 528.28,197.52 528.35,196.16 528.42,194.75 528.49,193.31 528.56,191.83 528.63,190.30 528.70,188.74 528.77,187.13 528.84,185.48 528.92,183.79 528.99,182.05 529.06,180.26 529.13,178.43 529.20,176.55 529.27,174.61 529.34,172.62 529.41,170.59 529.48,168.49 529.55,166.35 529.62,164.14 529.69,161.88 529.76,159.56 529.83,157.19 529.90,154.75 529.97,152.26 530.04,149.70 530.11,147.09 530.18,144.41 530.25,141.67 530.32,138.87 530.39,136.01 530.46,133.10 530.53,130.12 530.60,127.09 530.67,124.00 530.74,120.86 530.81,117.67 530.88,114.43 530.95,111.14 531.02,107.81 531.09,104.45 531.16,101.05 531.23,97.63 531.30,94.19 531.37,90.73 531.44,87.26 531.51,83.80 531.58,80.34 531.65,76.90 531.72,73.49 531.79,70.12 531.86,66.79 531.93,63.52 532.00,60.32 532.07,57.20 532.14,54.18 532.21,51.25 532.28,48.45 532.35,45.76 532.42,43.22 532.49,40.82 532.56,38.59 532.63,36.51 532.70,34.62 532.77,32.90 532.84,31.37 532.91,30.04 532.98,28.90 533.05,27.95 533.12,27.20 533.19,26.63 533.26,26.26 533.34,26.05 533.40,26.00 533.41,26.00 533.48,26.05 533.55,26.26 533.62,26.65 533.69,27.26 533.76,28.10 533.83,29.19 533.90,30.54 533.97,32.15 534.04,34.02 534.11,36.14 534.18,38.52 534.25,41.15 534.32,44.00 534.39,47.07 534.46,50.33 534.53,53.78 534.60,57.39 534.67,61.14 534.74,65.01 534.81,68.99 534.88,73.05 534.95,77.17 535.02,81.33 535.09,85.52 535.16,89.72 535.23,93.92 535.30,98.10 535.37,102.25 535.44,106.36 535.51,110.42 535.58,114.42 535.65,118.35 535.72,122.21 535.79,125.99 535.86,129.69 535.93,133.31 536.00,136.83 536.07,140.27 536.14,143.62 536.21,146.87 536.28,150.04 536.35,153.11 536.42,156.09 536.49,158.99 536.56,161.79 536.63,164.51 536.70,167.15 536.77,169.70 536.84,172.17 536.91,174.57 536.98,176.88 537.05,179.13 537.12,181.30 537.19,183.40 537.26,185.43 537.33,187.40 537.40,189.30 537.47,191.14 537.54,192.93 537.61,194.65 537.68,196.32 537.76,197.94 537.83,199.51 537.90,201.02 537.97,202.49 538.04,203.91 538.11,205.29 538.18,206.63 538.25,207.92 538.32,209.17 538.39,210.39 538.46,211.57 538.53,212.71 538.60,213.82 538.67,214.90 538.74,215.94 538.81,216.95 538.88,217.94 538.95,218.89 539.02,219.82 539.09,220.72 539.16,221.59 539.23,222.45 539.30,223.27 539.37,224.08 539.44,224.86 539.51,225.62 539.58,226.36 539.65,227.08 539.72,227.78 539.79,228.46 539.86,229.12 539.93,229.77 540.00,230.40 540.07,231.01 540.14,231.61 540.21,232.19 540.28,232.76 540.35,233.31 540.42,233.85 540.49,234.38 540.56,234.89 540.63,235.39 540.70,235.88 540.77,236.35 540.84,236.82 540.91,237.27 540.98,237.72 541.05,238.15 541.12,238.57 541.19,238.99 541.26,239.39 541.33,239.78 541.40,240.17 541.47,240.55 541.54,240.92 541.61,241.28 541.68,241.63 541.75,241.97 541.82,242.31 541.89,242.64 541.96,242.97 542.03,243.28 542.10,243.59 542.18,243.90 542.25,244.19 542.32,244.48 542.39,244.77 542.46,245.05 542.53,245.32 542.60,245.59 542.67,245.85 542.74,246.11 542.81,246.36 542.88,246.61 542.95,246.85 543.02,247.09 543.09,247.32 543.16,247.55 543.23,247.77 543.30,247.99 543.37,248.21 543.44,248.42 543.51,248.63 543.58,248.84 543.65,249.04 543.72,249.23 543.79,249.43 543.86,249.62 543.93,249.80 544.00,249.99 544.07,250.17 544.14,250.34 544.21,250.52 544.28,250.69 544.35,250.86 544.42,251.02 544.49,251.18 544.56,251.34 544.63,251.50 544.70,251.65 544.77,251.80 544.84,251.95 544.91,252.10 544.98,252.24 545.05,252.39 545.12,252.52 545.19,252.66 545.26,252.80 545.33,252.93 545.40,253.06 545.47,253.19 545.54,253.32 545.61,253.44 545.68,253.56 545.75,253.68 545.82,253.80 545.89,253.92 545.96,254.04 546.03,254.15 546.10,254.26 546.17,254.37 546.24,254.48 546.31,254.59 546.38,254.69 546.45,254.80 546.52,254.90 546.60,255.00 546.67,255.10 546.74,255.20 546.81,255.29 546.88,255.39 546.95,255.48 547.02,255.58 547.09,255.67 547.16,255.76 547.23,255.85 547.30,255.93 547.37,256.02 547.44,256.10 547.51,256.19 547.58,256.27 547.65,256.35 547.72,256.43 547.79,256.51 547.86,256.59 547.93,256.67 548.00,256.75 548.07,256.82 548.14,256.90 548.21,256.97 548.28,257.04 548.35,257.11 548.42,257.18 548.49,257.25 548.56,257.32 548.63,257.39 548.70,257.46 548.77,257.52 548.84,257.59 548.91,257.65 548.98,257.72 549.05,257.78 549.12,257.84 549.19,257.90 549.26,257.97 549.33,258.03 549.40,258.08 549.47,258.14 549.54,258.20 549.61,258.26 549.68,258.31 549.75,258.37 549.82,258.43 549.89,258.48 549.96,258.53 550.03,258.59 550.10,258.64 550.17,258.69 550.24,258.74 550.31,258.79 550.38,258.84 550.45,258.89 550.52,258.94 550.59,258.99 550.66,259.04 550.73,259.09 550.80,259.13 550.87,259.18 550.94,259.23 551.02,259.27 551.09,259.32 551.16,259.36 551.23,259.41 551.30,259.45 551.37,259.49 551.44,259.53 551.51,259.58 551.58,259.62 551.65,259.66 551.72,259.70 551.79,259.74 551.86,259.78 551.93,259.82 552.00,259.86 552.07,259.90 552.14,259.94 552.21,259.97 552.28,260.01 552.35,260.05 552.42,260.09 552.49,260.12 552.56,260.16 552.63,260.19 552.70,260.23 552.77,260.26 552.84,260.30 552.91,260.33 552.98,260.37 553.05,260.40 553.12,260.43 553.19,260.47 553.26,260.50 553.33,260.53 553.40,260.56 553.47,260.59 553.54,260.63 553.61,260.66 553.68,260.69 553.75,260.72 553.82,260.75 553.89,260.78 553.96,260.81 554.03,260.84 554.10,260.87 554.17,260.89 554.24,260.92 554.31,260.95 554.38,260.98 554.45,261.01 554.52,261.03 554.59,261.06 554.66,261.09 554.73,261.11 554.80,261.14 554.87,261.17 554.94,261.19 555.01,261.22 555.08,261.24 555.15,261.27 555.22,261.29 555.29,261.32 555.36,261.34 555.43,261.37 555.51,261.39 555.58,261.42 555.65,261.44 555.72,261.46 555.79,261.49 555.86,261.51 555.93,261.53 556.00,261.55 556.07,261.58 556.14,261.60 556.21,261.62 556.28,261.64 556.35,261.67 556.42,261.69 556.49,261.71 556.56,261.73 556.63,261.75 556.70,261.77 556.77,261.79 556.84,261.81 556.91,261.83 556.98,261.85 557.05,261.87 557.12,261.89 557.19,261.91 557.26,261.93 557.33,261.95 557.40,261.97 557.47,261.99 557.54,262.01 557.61,262.03 557.68,262.05 557.75,262.06 557.82,262.08 557.89,262.10 557.96,262.12 558.03,262.14 558.10,262.15 558.17,262.17 558.24,262.19 558.31,262.21 558.38,262.22 558.45,262.24 558.52,262.26 558.59,262.27 558.66,262.29 558.73,262.31 558.80,262.32 558.87,262.34 558.94,262.36 559.01,262.37 559.08,262.39 559.15,262.40 559.22,262.42 559.29,262.44 559.36,262.45 559.43,262.47 559.50,262.48 559.57,262.50 559.64,262.51 559.71,262.53 559.78,262.54 559.85,262.55 559.93,262.57 560.00,262.58 560.07,262.60 560.14,262.61 560.21,262.63 560.28,262.64 560.35,262.65 560.42,262.67 560.49,262.68 560.56,262.70 560.63,262.71 560.70,262.72 560.77,262.74 560.84,262.75 560.91,262.76 560.98,262.77 561.05,262.79 561.12,262.80 561.19,262.81 561.26,262.83 561.33,262.84 561.40,262.85 561.47,262.86 561.54,262.88 561.61,262.89 561.68,262.90 561.75,262.91 561.82,262.92 561.89,262.94 561.96,262.95 562.03,262.96 562.10,262.97 562.17,262.98 562.24,262.99 562.31,263.01 562.38,263.02 562.45,263.03 562.52,263.04 562.59,263.05 562.66,263.06 562.73,263.07 562.80,263.08 562.87,263.09 562.94,263.10 563.01,263.12 563.08,263.13 563.15,263.14 563.22,263.15 563.29,263.16 563.36,263.17 563.43,263.18 563.50,263.19 563.57,263.20 563.64,263.21 563.71,263.22 563.78,263.23 563.85,263.24 563.92,263.25 563.99,263.26 564.06,263.27 564.13,263.28 564.20,263.29 564.27,263.30 564.35,263.30 564.42,263.31 564.49,263.32 564.56,263.33 564.63,263.34 564.70,263.35 564.77,263.36 564.84,263.37 564.91,263.38 564.98,263.39 565.05,263.40 565.12,263.40 565.19,263.41 565.26,263.42 565.33,263.43 565.40,263.44 565.47,263.45 565.54,263.46 565.61,263.46 565.68,263.47 565.75,263.48 565.82,263.49 565.89,263.50 565.96,263.51 566.03,263.51 566.10,263.52 566.17,263.53 566.24,263.54 566.31,263.55 566.38,263.55 566.45,263.56 566.52,263.57 566.59,263.58 566.66,263.59 566.73,263.59 566.80,263.60 566.87,263.61 566.94,263.62 567.01,263.62 567.08,263.63 567.15,263.64 567.22,263.65 567.29,263.65 567.36,263.66 567.43,263.67 567.50,263.67 567.57,263.68 567.64,263.69 567.71,263.70 567.78,263.70 567.85,263.71 567.92,263.72 567.99,263.72 568.06,263.73 568.13,263.74 568.20,263.74 568.27,263.75 568.34,263.76 568.41,263.76 568.48,263.77 568.55,263.78 568.62,263.78 568.69,263.79 568.77,263.80 568.84,263.80 568.91,263.81 568.98,263.82 569.05,263.82 569.12,263.83 569.19,263.83 569.26,263.84 569.33,263.85 569.40,263.85 569.47,263.86 569.54,263.87 569.61,263.87 569.68,263.88 569.75,263.88 569.82,263.89 569.89,263.90 569.96,263.90 570.03,263.91 570.10,263.91 570.17,263.92 570.24,263.92 570.31,263.93 570.38,263.94 570.45,263.94 570.52,263.95 570.59,263.95 570.66,263.96 570.73,263.96 570.80,263.97 570.87,263.98 570.94,263.98 571.01,263.99 571.08,263.99 571.15,264.00 571.22,264.00 571.29,264.01 571.36,264.01 571.43,264.02 571.50,264.02 571.57,264.03 571.64,264.03 571.71,264.04 571.78,264.04 571.85,264.05 571.92,264.05 571.99,264.06 572.06,264.06 572.13,264.07 572.20,264.07 572.27,264.08 572.34,264.08 572.41,264.09 572.48,264.09 572.55,264.10 572.62,264.10 572.69,264.11 572.76,264.11 572.83,264.12 572.90,264.12 572.97,264.13 573.04,264.13 573.11,264.14 573.19,264.14 573.26,264.15 573.33,264.15 573.40,264.16 573.47,264.16 573.54,264.16 573.61,264.17 573.68,264.17 573.75,264.18 573.82,264.18 573.89,264.19 573.96,264.19 574.03,264.20 574.10,264.20 574.17,264.20 574.24,264.21 574.31,264.21 574.38,264.22 574.45,264.22 574.52,264.23 574.59,264.23 574.66,264.23 574.73,264.24 574.80,264.24 574.87,264.25 574.94,264.25 575.01,264.26 575.08,264.26 575.15,264.26 575.22,264.27 575.29,264.27 575.36,264.28 576.18,264.32 577.00,264.36 577.82,264.41 578.64,264.44 579.47,264.48 580.29,264.52 581.11,264.55 581.93,264.58 582.75,264.61 583.57,264.64 584.39,264.67 585.21,264.70 586.04,264.72 586.86,264.74 587.68,264.77 588.50,264.79 589.32,264.81 590.14,264.83 590.96,264.85 591.78,264.87 592.60,264.89 593.43,264.91 594.25,264.92 595.07,264.94 595.89,264.96 596.71,264.97 597.53,264.98 598.35,265.00 599.17,265.01 600.00,265.03 600.82,265.04 601.64,265.05 602.46,265.06 603.28,265.07 604.10,265.08 604.92,265.09 605.74,265.11 606.56,265.12 607.39,265.12 608.21,265.13 609.03,265.14 609.85,265.15 610.67,265.16 611.49,265.17 612.31,265.18 613.13,265.19 613.96,265.19 614.78,265.20 615.60,265.21 616.42,265.21 617.24,265.22 618.06,265.23 618.88,265.23 619.70,265.24 620.52,265.25 621.35,265.25 622.17,265.26 622.99,265.26 623.81,265.27 624.63,265.27 625.45,265.28 626.27,265.29 627.09,265.29 627.91,265.29 628.74,265.30 629.56,265.30 630.38,265.31 631.20,265.31 632.02,265.32 632.84,265.32 633.66,265.33 634.48,265.33 635.31,265.33 636.13,265.34 636.95,265.34 637.77,265.34 638.59,265.35 639.41,265.35 640.23,265.36 641.05,265.36 641.87,265.36 642.70,265.37 643.52,265.37 644.34,265.37 645.16,265.37 645.98,265.38 646.80,265.38 647.62,265.38 648.44,265.39 649.27,265.39 650.09,265.39 650.91,265.39 651.73,265.40 652.55,265.40 653.37,265.40 654.19,265.40 655.01,265.41 655.83,265.41 656.66,265.41 657.48,265.41 658.30,265.42 659.12,265.42 659.94,265.42 660.76,265.42 661.58,265.42 662.40,265.43 663.23,265.43 664.05,265.43 664.87,265.43 665.69,265.43 666.51,265.44 667.33,265.44 668.15,265.44 668.97,265.44 669.79,265.44 670.62,265.44 671.44,265.45 672.26,265.45 673.08,265.45" class="c"/>
<rect x="24.7" y="361.65" width="296.30" height="280.00" class="ax"/>
<line x1="60.52" y1="641.65" x2="60.52" y2="634.60" class="ax"/>
<text x="60.52" y="663.70" font-size="17.1" text-anchor="middle" >-4000</text>
<line x1="116.60" y1="641.65" x2="116.60" y2="634.60" class="ax"/>
<text x="116.60" y="663.70" font-size="17.1" text-anchor="middle" >-2000</text>
<line x1="172.68" y1="641.65" x2="172.68" y2="634.60" class="ax"/>
<text x="172.68" y="663.70" font-size="17.1" text-anchor="middle" >0</text>
<line x1="228.76" y1="641.65" x2="228.76" y2="634.60" class="ax"/>
<text x="228.76" y="663.70" font-size="17.1" text-anchor="middle" >2000</text>
<line x1="284.84" y1="641.65" x2="284.84" y2="634.60" class="ax"/>
<text x="284.84" y="663.70" font-size="17.1" text-anchor="middle" >4000</text>
<line x1="24.7" y1="377.50" x2="31.75" y2="377.50" class="ax"/>
<line x1="24.7" y1="425.56" x2="31.75" y2="425.56" class="ax"/>
<line x1="24.7" y1="473.62" x2="31.75" y2="473.62" class="ax"/>
<line x1="24.7" y1="521.68" x2="31.75" y2="521.68" class="ax"/>
<line x1="24.7" y1="569.74" x2="31.75" y2="569.74" class="ax"/>
<line x1="24.7" y1="617.80" x2="31.75" y2="617.80" class="ax"/>
<text x="38.05" y="391.60" font-size="22.7" text-anchor="start" >(c) GaSb</text>
<text x="130.40" y="690.70" font-size="17">&#916;</text>
<path d="M2.4,-7.9 C0.7,-6.7 0,-5.0 0,-3.5 C0,-1.3 1.1,0.15 2.6,0.15 C3.8,0.15 4.7,-0.5 5.3,-1.5 C5.9,-0.5 6.8,0.15 8.0,0.15 C9.5,0.15 10.6,-1.3 10.6,-3.5 C10.6,-5.0 9.9,-6.7 8.2,-7.9 L7.7,-7.4 C8.6,-6.4 9.0,-5.0 9.0,-3.5 C9.0,-1.7 8.5,-0.7 7.7,-0.7 C6.7,-0.7 5.8,-1.8 5.75,-3.2 L5.7,-6.6 C5.65,-7.1 5.0,-7.1 4.95,-6.6 L4.85,-3.2 C4.8,-1.8 3.9,-0.7 2.9,-0.7 C2.1,-0.7 1.6,-1.7 1.6,-3.5 C1.6,-5.0 2.0,-6.4 2.9,-7.4 Z" transform="translate(140.90,690.35)" fill="#000"/>
<text x="156.00" y="690.60" font-size="16.8">[arcsec]</text>
<text transform="translate(12.40,572.80) rotate(-90)" font-size="17">Intensity [arb units]</text>
<polyline points="32.90,617.78 33.72,617.77 34.54,617.77 35.36,617.77 36.19,617.77 37.01,617.77 37.83,617.77 38.65,617.77 39.47,617.77 40.29,617.77 41.11,617.77 41.93,617.77 42.75,617.77 43.58,617.77 44.40,617.77 45.22,617.76 46.04,617.76 46.86,617.76 47.68,617.76 48.50,617.76 49.32,617.76 50.15,617.76 50.97,617.76 51.79,617.76 52.61,617.75 53.43,617.75 54.25,617.75 55.07,617.75 55.89,617.75 56.71,617.75 57.54,617.75 58.36,617.75 59.18,617.74 60.00,617.74 60.82,617.74 61.64,617.74 62.46,617.74 63.28,617.73 64.11,617.73 64.93,617.73 65.75,617.73 66.57,617.73 67.39,617.72 68.21,617.72 69.03,617.72 69.85,617.72 70.67,617.71 71.50,617.71 72.32,617.71 73.14,617.71 73.96,617.70 74.78,617.70 75.60,617.70 76.42,617.69 77.24,617.69 78.07,617.69 78.89,617.68 79.71,617.68 80.53,617.67 81.35,617.67 82.17,617.66 82.99,617.66 83.81,617.65 84.63,617.65 85.46,617.64 86.28,617.64 87.10,617.63 87.92,617.63 88.74,617.62 89.56,617.61 90.38,617.60 91.20,617.60 92.02,617.59 92.85,617.58 93.67,617.57 94.49,617.56 95.31,617.55 96.13,617.54 96.95,617.53 97.77,617.52 98.59,617.51 99.42,617.50 100.24,617.48 101.06,617.47 101.88,617.45 102.70,617.44 103.52,617.42 104.34,617.40 105.16,617.39 105.98,617.37 106.81,617.35 107.63,617.32 108.45,617.30 109.27,617.28 110.09,617.25 110.91,617.22 111.73,617.19 112.55,617.16 113.38,617.13 114.20,617.09 115.02,617.06 115.84,617.02 116.66,616.97 117.48,616.93 118.30,616.88 119.12,616.83 119.94,616.77 120.77,616.71 121.59,616.65 122.41,616.58 123.23,616.50 124.05,616.42 124.87,616.33 125.69,616.24 126.51,616.14 127.34,616.03 128.16,615.92 128.98,615.79 129.80,615.65 130.62,615.50 130.69,615.49 130.76,615.47 130.83,615.46 130.90,615.45 130.97,615.43 131.04,615.42 131.11,615.41 131.18,615.39 131.25,615.38 131.32,615.36 131.39,615.35 131.46,615.33 131.53,615.32 131.60,615.31 131.67,615.29 131.74,615.28 131.81,615.26 131.88,615.25 131.95,615.23 132.02,615.21 132.09,615.20 132.16,615.18 132.23,615.17 132.30,615.15 132.37,615.14 132.44,615.12 132.51,615.10 132.58,615.09 132.65,615.07 132.72,615.06 132.79,615.04 132.87,615.02 132.94,615.01 133.01,614.99 133.08,614.97 133.15,614.95 133.22,614.94 133.29,614.92 133.36,614.90 133.43,614.88 133.50,614.87 133.57,614.85 133.64,614.83 133.71,614.81 133.78,614.79 133.85,614.78 133.92,614.76 133.99,614.74 134.06,614.72 134.13,614.70 134.20,614.68 134.27,614.66 134.34,614.64 134.41,614.62 134.48,614.60 134.55,614.58 134.62,614.56 134.69,614.54 134.76,614.52 134.83,614.50 134.90,614.48 134.97,614.46 135.04,614.44 135.11,614.42 135.18,614.40 135.25,614.37 135.32,614.35 135.39,614.33 135.46,614.31 135.53,614.29 135.60,614.26 135.67,614.24 135.74,614.22 135.81,614.20 135.88,614.17 135.95,614.15 136.02,614.13 136.09,614.10 136.16,614.08 136.23,614.06 136.30,614.03 136.37,614.01 136.44,613.98 136.51,613.96 136.58,613.93 136.65,613.91 136.72,613.88 136.79,613.86 136.86,613.83 136.93,613.80 137.00,613.78 137.07,613.75 137.14,613.73 137.21,613.70 137.29,613.67 137.36,613.64 137.43,613.62 137.50,613.59 137.57,613.56 137.64,613.53 137.71,613.51 137.78,613.48 137.85,613.45 137.92,613.42 137.99,613.39 138.06,613.36 138.13,613.33 138.20,613.30 138.27,613.27 138.34,613.24 138.41,613.21 138.48,613.18 138.55,613.15 138.62,613.12 138.69,613.08 138.76,613.05 138.83,613.02 138.90,612.99 138.97,612.95 139.04,612.92 139.11,612.89 139.18,612.85 139.25,612.82 139.32,612.79 139.39,612.75 139.46,612.72 139.53,612.68 139.60,612.65 139.67,612.61 139.74,612.58 139.81,612.54 139.88,612.50 139.95,612.47 140.02,612.43 140.09,612.39 140.16,612.35 140.23,612.32 140.30,612.28 140.37,612.24 140.44,612.20 140.51,612.16 140.58,612.12 140.65,612.08 140.72,612.04 140.79,612.00 140.86,611.96 140.93,611.92 141.00,611.87 141.07,611.83 141.14,611.79 141.21,611.75 141.28,611.70 141.35,611.66 141.42,611.62 141.49,611.57 141.56,611.53 141.63,611.48 141.71,611.44 141.78,611.39 141.85,611.34 141.92,611.30 141.99,611.25 142.06,611.20 142.13,611.16 142.20,611.11 142.27,611.06 142.34,611.01 142.41,610.96 142.48,610.91 142.55,610.86 142.62,610.81 142.69,610.76 142.76,610.70 142.83,610.65 142.90,610.60 142.97,610.55 143.04,610.49 143.11,610.44 143.18,610.38 143.25,610.33 143.32,610.27 143.39,610.22 143.46,610.16 143.53,610.10 143.60,610.05 143.67,609.99 143.74,609.93 143.81,609.87 143.88,609.81 143.95,609.75 144.02,609.69 144.09,609.63 144.16,609.57 144.23,609.50 144.30,609.44 144.37,609.38 144.44,609.31 144.51,609.25 144.58,609.18 144.65,609.12 144.72,609.05 144.79,608.98 144.86,608.91 144.93,608.84 145.00,608.78 145.07,608.71 145.14,608.64 145.21,608.56 145.28,608.49 145.35,608.42 145.42,608.35 145.49,608.27 145.56,608.20 145.63,608.12 145.70,608.05 145.77,607.97 145.84,607.89 145.91,607.82 145.98,607.74 146.05,607.66 146.13,607.58 146.20,607.50 146.27,607.42 146.34,607.33 146.41,607.25 146.48,607.17 146.55,607.08 146.62,607.00 146.69,606.91 146.76,606.82 146.83,606.73 146.90,606.65 146.97,606.56 147.04,606.47 147.11,606.37 147.18,606.28 147.25,606.19 147.32,606.09 147.39,606.00 147.46,605.90 147.53,605.81 147.60,605.71 147.67,605.61 147.74,605.51 147.81,605.41 147.88,605.31 147.95,605.21 148.02,605.10 148.09,605.00 148.16,604.89 148.23,604.78 148.30,604.68 148.37,604.57 148.44,604.46 148.51,604.35 148.58,604.24 148.65,604.12 148.72,604.01 148.79,603.89 148.86,603.78 148.93,603.66 149.00,603.54 149.07,603.42 149.14,603.30 149.21,603.18 149.28,603.05 149.35,602.93 149.42,602.80 149.49,602.68 149.56,602.55 149.63,602.42 149.70,602.29 149.77,602.15 149.84,602.02 149.91,601.89 149.98,601.75 150.05,601.61 150.12,601.47 150.19,601.33 150.26,601.19 150.33,601.05 150.40,600.90 150.47,600.76 150.55,600.61 150.62,600.46 150.69,600.31 150.76,600.16 150.83,600.00 150.90,599.85 150.97,599.69 151.04,599.53 151.11,599.37 151.18,599.21 151.25,599.04 151.32,598.88 151.39,598.71 151.46,598.54 151.53,598.37 151.60,598.20 151.67,598.03 151.74,597.85 151.81,597.68 151.88,597.50 151.95,597.32 152.02,597.13 152.09,596.95 152.16,596.76 152.23,596.57 152.30,596.38 152.37,596.19 152.44,595.99 152.51,595.80 152.58,595.60 152.65,595.40 152.72,595.20 152.79,594.99 152.86,594.78 152.93,594.57 153.00,594.36 153.07,594.15 153.14,593.93 153.21,593.72 153.28,593.50 153.35,593.27 153.42,593.05 153.49,592.82 153.56,592.59 153.63,592.36 153.70,592.12 153.77,591.89 153.84,591.65 153.91,591.41 153.98,591.16 154.05,590.91 154.12,590.66 154.19,590.41 154.26,590.16 154.33,589.90 154.40,589.64 154.47,589.37 154.54,589.11 154.61,588.84 154.68,588.57 154.75,588.29 154.82,588.02 154.89,587.74 154.96,587.45 155.04,587.17 155.11,586.88 155.18,586.58 155.25,586.29 155.32,585.99 155.39,585.69 155.46,585.38 155.53,585.07 155.60,584.76 155.67,584.45 155.74,584.13 155.81,583.81 155.88,583.48 155.95,583.15 156.02,582.82 156.09,582.48 156.16,582.14 156.23,581.80 156.30,581.45 156.37,581.10 156.44,580.75 156.51,580.39 156.58,580.03 156.65,579.66 156.72,579.29 156.79,578.92 156.86,578.54 156.93,578.16 157.00,577.78 157.07,577.39 157.14,576.99 157.21,576.60 157.28,576.19 157.35,575.79 157.42,575.38 157.49,574.96 157.56,574.54 157.63,574.12 157.70,573.69 157.77,573.25 157.84,572.82 157.91,572.37 157.98,571.93 158.05,571.47 158.12,571.02 158.19,570.56 158.26,570.09 158.33,569.62 158.40,569.14 158.47,568.66 158.54,568.17 158.61,567.68 158.68,567.18 158.75,566.68 158.82,566.17 158.89,565.66 158.96,565.14 159.03,564.62 159.10,564.09 159.17,563.56 159.24,563.02 159.31,562.47 159.38,561.92 159.46,561.36 159.53,560.80 159.60,560.23 159.67,559.65 159.74,559.07 159.81,558.48 159.88,557.89 159.95,557.29 160.02,556.69 160.09,556.08 160.16,555.46 160.23,554.83 160.30,554.20 160.37,553.57 160.44,552.92 160.51,552.27 160.58,551.62 160.65,550.95 160.72,550.28 160.79,549.61 160.86,548.92 160.93,548.23 161.00,547.53 161.07,546.83 161.14,546.12 161.21,545.40 161.28,544.67 161.35,543.94 161.42,543.20 161.49,542.46 161.56,541.70 161.63,540.94 161.70,540.17 161.77,539.39 161.84,538.61 161.91,537.82 161.98,537.02 162.05,536.21 162.12,535.40 162.19,534.58 162.26,533.75 162.33,532.91 162.40,532.06 162.47,531.21 162.54,530.35 162.61,529.48 162.68,528.61 162.75,527.72 162.82,526.83 162.89,525.93 162.96,525.02 163.03,524.10 163.10,523.18 163.17,522.24 163.24,521.30 163.31,520.35 163.38,519.40 163.45,518.43 163.52,517.46 163.59,516.48 163.66,515.49 163.73,514.49 163.80,513.48 163.88,512.47 163.95,511.44 164.02,510.41 164.09,509.37 164.16,508.33 164.23,507.27 164.30,506.21 164.37,505.14 164.44,504.06 164.51,502.97 164.58,501.87 164.65,500.77 164.72,499.66 164.79,498.54 164.86,497.41 164.93,496.27 165.00,495.13 165.07,493.98 165.14,492.82 165.21,491.66 165.28,490.48 165.35,489.30 165.42,488.11 165.49,486.92 165.56,485.71 165.63,484.51 165.70,483.29 165.77,482.07 165.84,480.84 165.91,479.60 165.98,478.35 166.05,477.11 166.12,475.85 166.19,474.59 166.26,473.32 166.33,472.05 166.40,470.77 166.47,469.48 166.54,468.19 166.61,466.90 166.68,465.60 166.75,464.29 166.82,462.98 166.89,461.67 166.96,460.35 167.03,459.03 167.10,457.71 167.17,456.38 167.24,455.05 167.31,453.71 167.38,452.37 167.45,451.04 167.52,449.69 167.59,448.35 167.66,447.01 167.73,445.66 167.80,444.32 167.87,442.97 167.94,441.62 168.01,440.27 168.08,438.93 168.15,437.58 168.22,436.24 168.30,434.90 168.37,433.56 168.44,432.22 168.51,430.89 168.58,429.55 168.65,428.23 168.72,426.90 168.79,425.59 168.86,424.27 168.93,422.96 169.00,421.66 169.07,420.37 169.14,419.08 169.21,417.80 169.28,416.53 169.35,415.27 169.42,414.01 169.49,412.77 169.56,411.54 169.63,410.31 169.70,409.10 169.77,407.91 169.84,406.72 169.91,405.55 169.98,404.39 170.05,403.25 170.12,402.13 170.19,401.02 170.26,399.92 170.33,398.85 170.40,397.79 170.47,396.75 170.54,395.74 170.61,394.74 170.68,393.77 170.75,392.82 170.82,391.89 170.89,390.99 170.96,390.11 171.03,389.26 171.10,388.43 171.17,387.64 171.24,386.87 171.31,386.13 171.38,385.43 171.45,384.76 171.52,384.12 171.59,383.52 171.80,381.60 172.01,380.77 172.08,380.48 172.30,377.90 172.50,383.38 172.57,384.72 172.64,386.09 172.80,381.60 173.00,393.32 173.07,394.80 173.14,396.30 173.21,397.80 173.28,399.30 173.35,400.81 173.42,402.32 173.49,403.83 173.56,405.34 173.63,406.86 173.70,408.37 173.77,409.88 173.84,411.39 173.91,412.89 173.98,414.39 174.05,415.89 174.12,417.38 174.19,418.87 174.26,420.36 174.33,421.84 174.40,423.32 174.47,424.79 174.54,426.25 174.61,427.71 174.68,429.16 174.75,430.60 174.82,432.04 174.89,433.47 174.96,434.90 175.03,436.32 175.10,437.73 175.17,439.13 175.24,440.52 175.31,441.91 175.38,443.29 175.45,444.67 175.52,446.03 175.59,447.39 175.66,448.74 175.73,450.08 175.80,451.41 175.87,452.74 175.94,454.05 176.01,455.36 176.08,456.66 176.15,457.95 176.22,459.24 176.29,460.51 176.36,461.78 176.43,463.04 176.50,464.29 176.57,465.53 176.64,466.77 176.71,467.99 176.78,469.21 176.85,470.42 176.92,471.62 176.99,472.81 177.06,473.99 177.14,475.17 177.21,476.34 177.28,477.50 177.35,478.65 177.42,479.79 177.49,480.92 177.56,482.05 177.63,483.16 177.70,484.27 177.77,485.37 177.84,486.47 177.91,487.55 177.98,488.63 178.05,489.70 178.12,490.76 178.19,491.81 178.26,492.85 178.33,493.89 178.40,494.92 178.47,495.94 178.54,496.95 178.61,497.96 178.68,498.96 178.75,499.95 178.82,500.93 178.89,501.90 178.96,502.87 179.03,503.83 179.10,504.78 179.17,505.72 179.24,506.66 179.31,507.59 179.38,508.51 179.45,509.43 179.52,510.33 179.59,511.23 179.66,512.13 179.73,513.01 179.80,513.89 179.87,514.76 179.94,515.63 180.01,516.49 180.08,517.34 180.15,518.18 180.22,519.02 180.29,519.85 180.36,520.67 180.43,521.49 180.50,522.30 180.57,523.10 180.64,523.90 180.71,524.69 180.78,525.47 180.85,526.25 180.92,527.02 180.99,527.79 181.06,528.54 181.13,529.30 181.20,530.04 181.27,530.78 181.34,531.51 181.41,532.24 181.48,532.96 181.56,533.68 181.63,534.39 181.70,535.09 181.77,535.79 181.84,536.48 181.91,537.17 181.98,537.85 182.05,538.52 182.12,539.19 182.19,539.85 182.26,540.51 182.33,541.16 182.40,541.81 182.47,542.45 182.54,543.09 182.61,543.72 182.68,544.34 182.75,544.96 182.82,545.58 182.89,546.19 182.96,546.79 183.03,547.39 183.10,547.98 183.17,548.57 183.24,549.16 183.31,549.74 183.38,550.31 183.45,550.88 183.52,551.44 183.59,552.00 183.66,552.56 183.73,553.11 183.80,553.65 183.87,554.20 183.94,554.73 184.01,555.26 184.08,555.79 184.15,556.31 184.22,556.83 184.29,557.34 184.36,557.85 184.43,558.36 184.50,558.86 184.57,559.36 184.64,559.85 184.71,560.34 184.78,560.82 184.85,561.30 184.92,561.77 184.99,562.24 185.06,562.71 185.13,563.17 185.20,563.63 185.27,564.09 185.34,564.54 185.41,564.99 185.48,565.43 185.55,565.87 185.62,566.31 185.69,566.74 185.76,567.17 185.83,567.59 185.90,568.01 185.98,568.43 186.05,568.85 186.12,569.26 186.19,569.66 186.26,570.07 186.33,570.47 186.40,570.86 186.47,571.26 186.54,571.65 186.61,572.03 186.68,572.41 186.75,572.79 186.82,573.17 186.89,573.54 186.96,573.91 187.03,574.28 187.10,574.64 187.17,575.00 187.24,575.36 187.31,575.71 187.38,576.07 187.45,576.41 187.52,576.76 187.59,577.10 187.66,577.44 187.73,577.78 187.80,578.11 187.87,578.44 187.94,578.77 188.01,579.09 188.08,579.41 188.15,579.73 188.22,580.05 188.29,580.36 188.36,580.67 188.43,580.98 188.50,581.29 188.57,581.59 188.64,581.89 188.71,582.19 188.78,582.49 188.85,582.78 188.92,583.07 188.99,583.36 189.06,583.64 189.13,583.92 189.20,584.20 189.27,584.48 189.34,584.76 189.41,585.03 189.48,585.30 189.55,585.57 189.62,585.83 189.69,586.10 189.76,586.36 189.83,586.62 189.90,586.88 189.97,587.13 190.04,587.38 190.11,587.63 190.18,587.88 190.25,588.13 190.32,588.37 190.40,588.61 190.47,588.85 190.54,589.09 190.61,589.33 190.68,589.56 190.75,589.79 190.82,590.02 190.89,590.25 190.96,590.48 191.03,590.70 191.10,590.92 191.17,591.14 191.24,591.36 191.31,591.58 191.38,591.79 191.45,592.00 191.52,592.21 191.59,592.42 191.66,592.63 191.73,592.84 191.80,593.04 191.87,593.24 191.94,593.44 192.01,593.64 192.08,593.84 192.15,594.03 192.22,594.22 192.29,594.42 192.36,594.61 192.43,594.79 192.50,594.98 192.57,595.17 192.64,595.35 192.71,595.53 192.78,595.71 192.85,595.89 192.92,596.07 192.99,596.25 193.06,596.42 193.13,596.59 193.20,596.76 193.27,596.93 193.34,597.10 193.41,597.27 193.48,597.44 193.55,597.60 193.62,597.76 193.69,597.92 193.76,598.08 193.83,598.24 193.90,598.40 193.97,598.56 194.04,598.71 194.11,598.86 194.18,599.02 194.25,599.17 194.32,599.32 194.39,599.47 194.46,599.61 194.53,599.76 194.60,599.90 194.67,600.05 194.74,600.19 194.81,600.33 194.89,600.47 194.96,600.61 195.03,600.74 195.10,600.88 195.17,601.02 195.24,601.15 195.31,601.28 195.38,601.41 195.45,601.54 195.52,601.67 195.59,601.80 195.66,601.93 195.73,602.06 195.80,602.18 195.87,602.30 195.94,602.43 196.01,602.55 196.08,602.67 196.15,602.79 196.22,602.91 196.29,603.03 196.36,603.14 196.43,603.26 196.50,603.38 196.57,603.49 196.64,603.60 196.71,603.71 196.78,603.83 196.85,603.94 196.92,604.05 196.99,604.15 197.06,604.26 197.13,604.37 197.20,604.47 197.27,604.58 197.34,604.68 197.41,604.79 197.48,604.89 197.55,604.99 197.62,605.09 197.69,605.19 197.76,605.29 197.83,605.39 197.90,605.48 197.97,605.58 198.04,605.68 198.11,605.77 198.18,605.86 198.25,605.96 198.32,606.05 198.39,606.14 198.46,606.23 198.53,606.32 198.60,606.41 198.67,606.50 198.74,606.59 198.81,606.68 198.88,606.76 198.95,606.85 199.02,606.93 199.09,607.02 199.16,607.10 199.23,607.18 199.31,607.27 199.38,607.35 199.45,607.43 199.52,607.51 199.59,607.59 199.66,607.67 199.73,607.75 199.80,607.82 199.87,607.90 199.94,607.98 200.01,608.05 200.08,608.13 200.15,608.20 200.22,608.28 200.29,608.35 200.36,608.42 200.43,608.50 200.50,608.57 200.57,608.64 200.64,608.71 200.71,608.78 200.78,608.85 200.85,608.92 200.92,608.98 200.99,609.05 201.06,609.12 201.13,609.18 201.20,609.25 201.27,609.32 201.34,609.38 201.41,609.44 201.48,609.51 201.55,609.57 201.62,609.63 201.69,609.70 201.76,609.76 201.83,609.82 201.90,609.88 201.97,609.94 202.04,610.00 202.11,610.06 202.18,610.12 202.25,610.18 202.32,610.23 202.39,610.29 202.46,610.35 202.53,610.40 202.60,610.46 202.67,610.52 202.74,610.57 202.81,610.63 202.88,610.68 202.95,610.73 203.02,610.79 203.09,610.84 203.16,610.89 203.23,610.94 203.30,611.00 203.37,611.05 203.44,611.10 203.51,611.15 203.58,611.20 203.65,611.25 203.73,611.30 203.80,611.35 203.87,611.39 203.94,611.44 204.01,611.49 204.08,611.54 204.15,611.58 204.22,611.63 204.29,611.68 204.36,611.72 204.43,611.77 204.50,611.81 204.57,611.86 204.64,611.90 204.71,611.94 204.78,611.99 204.85,612.03 204.92,612.07 204.99,612.12 205.06,612.16 205.13,612.20 205.20,612.24 205.27,612.28 205.34,612.32 205.41,612.37 205.48,612.41 205.55,612.45 205.62,612.48 205.69,612.52 205.76,612.56 205.83,612.60 205.90,612.64 205.97,612.68 206.04,612.72 206.11,612.75 206.18,612.79 206.25,612.83 206.32,612.86 206.39,612.90 206.46,612.94 206.53,612.97 206.60,613.01 206.67,613.04 206.74,613.08 206.81,613.11 206.88,613.15 206.95,613.18 207.02,613.21 207.09,613.25 207.16,613.28 207.23,613.31 207.30,613.35 207.37,613.38 207.44,613.41 207.51,613.44 207.58,613.47 207.65,613.51 207.72,613.54 207.79,613.57 207.86,613.60 207.93,613.63 208.00,613.66 208.07,613.69 208.15,613.72 208.22,613.75 208.29,613.78 208.36,613.81 208.43,613.84 208.50,613.87 208.57,613.89 208.64,613.92 208.71,613.95 208.78,613.98 208.85,614.01 208.92,614.03 208.99,614.06 209.06,614.09 209.13,614.11 209.20,614.14 209.27,614.17 209.34,614.19 209.41,614.22 209.48,614.24 209.55,614.27 209.62,614.29 209.69,614.32 209.76,614.34 209.83,614.37 209.90,614.39 209.97,614.42 210.04,614.44 210.11,614.47 210.18,614.49 210.25,614.51 210.32,614.54 210.39,614.56 210.46,614.58 210.53,614.61 210.60,614.63 210.67,614.65 210.74,614.67 210.81,614.70 210.88,614.72 210.95,614.74 211.02,614.76 211.09,614.78 211.16,614.80 211.23,614.83 211.30,614.85 211.37,614.87 211.44,614.89 211.51,614.91 211.58,614.93 211.65,614.95 211.72,614.97 211.79,614.99 211.86,615.01 211.93,615.03 212.00,615.05 212.07,615.07 212.14,615.09 212.21,615.11 212.28,615.13 212.35,615.14 212.42,615.16 212.49,615.18 212.57,615.20 212.64,615.22 212.71,615.24 212.78,615.25 212.85,615.27 212.92,615.29 212.99,615.31 213.06,615.32 213.13,615.34 213.20,615.36 213.27,615.38 213.34,615.39 213.41,615.41 213.48,615.43 213.55,615.44 213.62,615.46 213.69,615.48 213.76,615.49 213.83,615.51 213.90,615.52 213.97,615.54 214.04,615.55 214.11,615.57 214.18,615.59 214.25,615.60 214.32,615.62 214.39,615.63 214.46,615.65 214.53,615.66 214.60,615.68 214.67,615.69 214.74,615.70 215.56,615.87 216.38,616.02 217.20,616.15 218.02,616.28 218.85,616.39 219.67,616.50 220.49,616.60 221.31,616.68 222.13,616.77 222.95,616.84 223.77,616.91 224.59,616.98 225.42,617.04 226.24,617.09 227.06,617.14 227.88,617.19 228.70,617.23 229.52,617.27 230.34,617.31 231.16,617.34 231.98,617.37 232.81,617.40 233.63,617.43 234.45,617.45 235.27,617.48 236.09,617.50 236.91,617.52 237.73,617.54 238.55,617.55 239.38,617.57 240.20,617.59 241.02,617.60 241.84,617.61 242.66,617.62 243.48,617.64 244.30,617.65 245.12,617.66 245.94,617.66 246.77,617.67 247.59,617.68 248.41,617.69 249.23,617.69 250.05,617.70 250.87,617.71 251.69,617.71 252.51,617.72 253.34,617.72 254.16,617.73 254.98,617.73 255.80,617.74 256.62,617.74 257.44,617.74 258.26,617.75 259.08,617.75 259.90,617.75 260.73,617.75 261.55,617.76 262.37,617.76 263.19,617.76 264.01,617.76 264.83,617.77 265.65,617.77 266.47,617.77 267.29,617.77 268.12,617.77 268.94,617.77 269.76,617.78 270.58,617.78 271.40,617.78 272.22,617.78 273.04,617.78 273.86,617.78 274.69,617.78 275.51,617.78 276.33,617.78 277.15,617.79 277.97,617.79 278.79,617.79 279.61,617.79 280.43,617.79 281.25,617.79 282.08,617.79 282.90,617.79 283.72,617.79 284.54,617.79 285.36,617.79 286.18,617.79 287.00,617.79 287.82,617.79 288.65,617.79 289.47,617.79 290.29,617.79 291.11,617.79 291.93,617.79 292.75,617.79 293.57,617.79 294.39,617.79 295.21,617.80 296.04,617.80 296.86,617.80 297.68,617.80 298.50,617.80 299.32,617.80 300.14,617.80 300.96,617.80 301.78,617.80 302.61,617.80 303.43,617.80 304.25,617.80 305.07,617.80 305.89,617.80 306.71,617.80 307.53,617.80 308.35,617.80 309.17,617.80 310.00,617.80 310.82,617.80 311.64,617.80 312.46,617.80" class="c"/>
<rect x="433.4" y="361.8" width="239.90" height="279.80" class="ax"/>
<text x="421.52" y="663.80" font-size="17.1" text-anchor="start" >0.0</text>
<line x1="473.38" y1="641.6" x2="473.38" y2="634.55" class="ax"/>
<text x="461.50" y="663.80" font-size="17.1" text-anchor="start" >0.2</text>
<line x1="513.37" y1="641.6" x2="513.37" y2="634.55" class="ax"/>
<text x="501.48" y="663.80" font-size="17.1" text-anchor="start" >0.4</text>
<line x1="553.35" y1="641.6" x2="553.35" y2="634.55" class="ax"/>
<text x="541.47" y="663.80" font-size="17.1" text-anchor="start" >0.6</text>
<line x1="593.33" y1="641.6" x2="593.33" y2="634.55" class="ax"/>
<text x="581.45" y="663.80" font-size="17.1" text-anchor="start" >0.8</text>
<line x1="633.32" y1="641.6" x2="633.32" y2="634.55" class="ax"/>
<path d="M375 0L375 709L305 709C280 620 250 600 95 585L95 525L270 525L270 0Z" transform="translate(621.43,663.80) scale(0.01710,-0.01710)" fill="#000"/>
<text x="630.94" y="663.80" font-size="17.1" text-anchor="start" >.0</text>
<path d="M375 0L375 709L305 709C280 620 250 600 95 585L95 525L270 525L270 0Z" transform="translate(661.42,663.80) scale(0.01710,-0.01710)" fill="#000"/>
<text x="670.92" y="663.80" font-size="17.1" text-anchor="start" >.2</text>
<text x="414.79" y="644.90" font-size="17.1" text-anchor="start" >0</text>
<line x1="433.4" y1="571.65" x2="440.30" y2="571.65" class="ax"/>
<text x="395.78" y="574.95" font-size="17.1" text-anchor="start" >500</text>
<line x1="433.4" y1="501.70" x2="440.30" y2="501.70" class="ax"/>
<path d="M375 0L375 709L305 709C280 620 250 600 95 585L95 525L270 525L270 0Z" transform="translate(386.27,505.00) scale(0.01710,-0.01710)" fill="#000"/>
<text x="395.78" y="505.00" font-size="17.1" text-anchor="start" >000</text>
<line x1="433.4" y1="431.75" x2="440.30" y2="431.75" class="ax"/>
<path d="M375 0L375 709L305 709C280 620 250 600 95 585L95 525L270 525L270 0Z" transform="translate(386.27,435.05) scale(0.01710,-0.01710)" fill="#000"/>
<text x="395.78" y="435.05" font-size="17.1" text-anchor="start" >500</text>
<text x="386.27" y="365.10" font-size="17.1" text-anchor="start" >2000</text>
<text x="445.4" y="391.7" font-size="22.2" text-anchor="start" >(d)</text>
<rect x="449.1" y="409.6" width="160.2" height="47.8" class="ax" />
<circle cx="465.3" cy="423.8" r="5.8" fill="#ff0000"/>
<rect x="459.4" y="440.0" width="11.7" height="11.7" rx="1" fill="#003aff"/>
<text x="476.5" y="426.9" font-size="14.2" text-anchor="start" >: tensile strain</text>
<text x="476.5" y="448.0" font-size="14.2" text-anchor="start" >: compressive strain</text>
<rect x="445.2" y="602.9" width="13.3" height="13.3" rx="1.2" fill="#003aff"/>
<rect x="652.1" y="407.0" width="13.6" height="13.6" rx="1.2" fill="#003aff"/>
<circle cx="520.0" cy="572.2" r="6.9" fill="#ff0000"/>
<text x="451.4" y="589.8" font-size="17.2" text-anchor="middle" >Si</text>
<text x="517.7" y="556.0" font-size="17.2" text-anchor="middle" >GaSb</text>
<text x="641.8" y="443.7" font-size="17.2" text-anchor="middle" >GaAs</text>
<text x="553.2" y="690.4" font-size="17" text-anchor="middle" >residual strain [%]</text>
<text transform="translate(373.4,560.0) rotate(-90)" font-size="16.8">FWHM [arcsec]</text>
</svg></body></html>
